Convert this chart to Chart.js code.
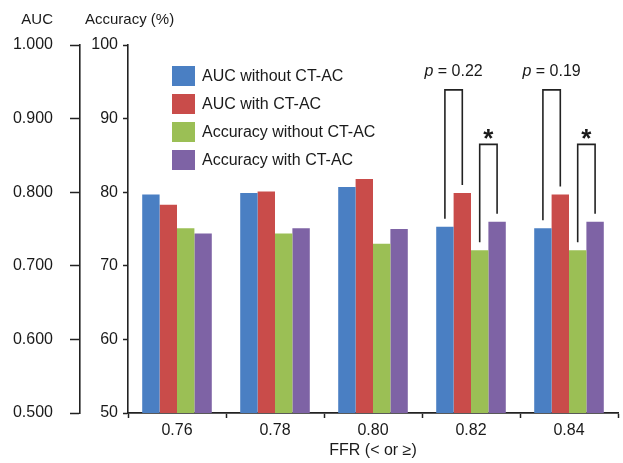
<!DOCTYPE html>
<html>
<head>
<meta charset="utf-8">
<script src="https://cdn.jsdelivr.net/npm/chart.js@4"></script>
<style>
  html, body { margin: 0; padding: 0; background: #ffffff; }
  #wrap { width: 623px; height: 463px; }
</style>
</head>
<body>
<div id="wrap"><canvas id="ffrChart"></canvas></div>
<script>
const cutoffs = ["0.76", "0.78", "0.80", "0.82", "0.84"];
const aucWithout = [0.797, 0.799, 0.807, 0.753, 0.751];
const aucWith = [0.783, 0.801, 0.818, 0.799, 0.797];
const accWithout = [75.1, 74.4, 73.0, 72.1, 72.1];
const accWith = [74.4, 75.1, 75.0, 76.0, 76.0];

// significance brackets: category, pair of datasets, top (accuracy units), text
const bracketGroups = [3, 3, 4, 4];
const bracketPairs = [[0, 1], [2, 3], [0, 1], [2, 3]];
const bracketTops = [93.9, 86.5, 93.9, 86.5];
const bracketLabels = ["p = 0.22", "*", "p = 0.19", "*"];

const FONT = "'Liberation Sans', Arial, Helvetica, sans-serif";
const INK = "#1a1a1a";

// legend drawn inside the plot area, top left
const legendPlugin = {
  id: "insideLegend",
  afterDraw(chart) {
    const { ctx, chartArea } = chart;
    ctx.save();
    ctx.font = "16px " + FONT;
    ctx.textBaseline = "middle";
    ctx.textAlign = "left";
    chart.data.datasets.forEach((ds, i) => {
      const y = chartArea.top + 31 + i * 28;
      const x = chartArea.left + 44;
      ctx.fillStyle = ds.backgroundColor;
      ctx.fillRect(x, y - 10, 23, 20);
      ctx.fillStyle = INK;
      ctx.fillText(ds.label, x + 30, y + 1);
    });
    ctx.restore();
  },
};

// axis titles sitting above each y axis
const axisTitlePlugin = {
  id: "axisTitles",
  afterDraw(chart) {
    const { ctx, chartArea } = chart;
    const auc = chart.scales.yAuc;
    const acc = chart.scales.yAcc;
    ctx.save();
    ctx.font = "15px " + FONT;
    ctx.fillStyle = INK;
    ctx.textBaseline = "middle";
    ctx.textAlign = "right";
    ctx.fillText("AUC", auc.right - 27, chartArea.top - 25);
    ctx.textAlign = "left";
    ctx.fillText("Accuracy (%)", acc.left + 5, chartArea.top - 25);
    ctx.restore();
  },
};

const bracketPlugin = {
  id: "brackets",
  afterDatasetsDraw(chart) {
    const { ctx } = chart;
    const acc = chart.scales.yAcc;
    ctx.save();
    ctx.strokeStyle = "#222222";
    ctx.lineWidth = 1.6;
    bracketGroups.forEach((g, k) => {
      const a = chart.getDatasetMeta(bracketPairs[k][0]).data[g];
      const b = chart.getDatasetMeta(bracketPairs[k][1]).data[g];
      const top = acc.getPixelForValue(bracketTops[k]);
      ctx.beginPath();
      ctx.moveTo(a.x, a.y - 8);
      ctx.lineTo(a.x, top);
      ctx.lineTo(b.x, top);
      ctx.lineTo(b.x, b.y - 8);
      ctx.stroke();

      const cx = (a.x + b.x) / 2;
      const label = bracketLabels[k];
      ctx.fillStyle = INK;
      if (label === "*") {
        ctx.font = "bold 26px " + FONT;
        ctx.textAlign = "center";
        ctx.textBaseline = "alphabetic";
        ctx.fillText("*", cx, top + 3);
      } else {
        // italic p, rest upright
        const rest = label.slice(1);
        ctx.textBaseline = "middle";
        ctx.font = "italic 16px " + FONT;
        const wp = ctx.measureText("p").width;
        ctx.font = "16px " + FONT;
        const wr = ctx.measureText(rest).width;
        const x0 = cx - (wp + wr) / 2;
        ctx.textAlign = "left";
        ctx.font = "italic 16px " + FONT;
        ctx.fillText("p", x0, top - 18);
        ctx.font = "16px " + FONT;
        ctx.fillText(rest, x0 + wp, top - 18);
      }
    });
    ctx.restore();
  },
};

const axisGrid = (len) => ({
  display: true,
  drawOnChartArea: false,
  drawTicks: true,
  tickLength: len,
  tickWidth: 1.5,
  tickColor: "#222222",
});

const ctx = document.getElementById("ffrChart").getContext("2d");
window.ffrChart = new Chart(ctx, {
  type: "bar",
  data: {
    labels: cutoffs,
    datasets: [
      { label: "AUC without CT-AC", data: aucWithout, yAxisID: "yAuc", backgroundColor: "#4a7fc3" },
      { label: "AUC with CT-AC", data: aucWith, yAxisID: "yAuc", backgroundColor: "#c94c4a" },
      { label: "Accuracy without CT-AC", data: accWithout, yAxisID: "yAcc", backgroundColor: "#9bbf55" },
      { label: "Accuracy with CT-AC", data: accWith, yAxisID: "yAcc", backgroundColor: "#7e63a5" },
    ],
  },
  options: {
    responsive: true,
    maintainAspectRatio: false,
    animation: false,
    layout: { padding: { left: 0, right: 5, top: 45, bottom: 0 } },
    datasets: {
      bar: { categoryPercentage: 0.71, barPercentage: 1.0, borderWidth: 0 },
    },
    plugins: {
      legend: { display: false },
      tooltip: { enabled: false },
    },
    scales: {
      x: {
        grid: { ...axisGrid(5), offset: true },
        border: { display: true, color: "#222222", width: 1.8 },
        ticks: { color: INK, font: { size: 16, family: FONT }, padding: 3 },
        title: {
          display: true,
          text: "FFR (< or ≥)",
          color: INK,
          font: { size: 16, family: FONT },
          padding: { top: 0, bottom: 3 },
        },
        afterFit: (scale) => { scale.height = 50; },
      },
      yAuc: {
        position: "left",
        weight: 1,
        min: 0.5,
        max: 1.0,
        grid: axisGrid(10),
        border: { display: true, color: "#222222", width: 1.6 },
        ticks: {
          stepSize: 0.1,
          color: INK,
          padding: 17,
          font: { size: 16, family: FONT },
          callback: (v) => Number(v).toFixed(3),
        },
        afterFit: (scale) => { scale.width = 80; },
      },
      yAcc: {
        position: "left",
        weight: 0,
        min: 50,
        max: 100,
        grid: axisGrid(5),
        border: { display: true, color: "#222222", width: 1.6 },
        ticks: {
          stepSize: 10,
          color: INK,
          padding: 5,
          font: { size: 16, family: FONT },
        },
        afterFit: (scale) => { scale.width = 48; },
      },
    },
  },
  plugins: [legendPlugin, axisTitlePlugin, bracketPlugin],
});
</script>
</body>
</html>
